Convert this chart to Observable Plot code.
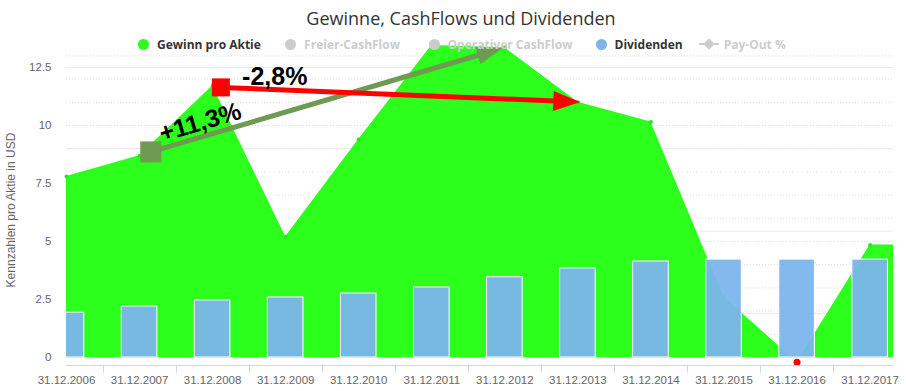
<!DOCTYPE html>
<html><head><meta charset="utf-8">
<script src="https://cdn.jsdelivr.net/npm/d3@7"></script>
<script src="https://cdn.jsdelivr.net/npm/@observablehq/plot@0.6"></script>
<style>
body{margin:0;background:#fff;}
#wrap{position:relative;width:906px;height:391px;overflow:hidden;}
#chart{position:absolute;left:0;top:0;}
.title{position:absolute;top:6px;left:461px;transform:translateX(-50%);font:18px "Open Sans";color:#333;white-space:nowrap;line-height:24px;}
.leg{position:absolute;top:36px;height:16px;display:flex;align-items:center;font:bold 12px "Open Sans";white-space:nowrap;}
.sym{width:11px;height:11px;border-radius:6px;margin-right:8px;}
.payout{position:relative;width:20px;height:11px;margin-right:5px;}
.payout .ln{position:absolute;left:0;top:4.5px;width:20px;height:2px;background:#ccc;}
.payout .dm{position:absolute;left:6px;top:1.5px;width:8px;height:8px;background:#ccc;transform:rotate(45deg);}
.ylab{position:absolute;left:11px;top:210px;transform:translate(-50%,-50%) rotate(-90deg);font:12px "Liberation Sans";color:#666;white-space:nowrap;}
</style></head><body>
<div id="wrap"><div id="chart"></div></div>
<script>
// ---- data ----
const years = ["31.12.2006","31.12.2007","31.12.2008","31.12.2009","31.12.2010","31.12.2011","31.12.2012","31.12.2013","31.12.2014","31.12.2015","31.12.2016","31.12.2017"];
const gewinn = [7.8, 8.7, 11.7, 5.2, 9.4, 13.45, 13.35, 11.0, 10.15, 2.6, -0.2, 4.85];
const dividenden = [1.93, 2.2, 2.46, 2.59, 2.76, 3.02, 3.46, 3.84, 4.14, 4.22, 4.22, 4.22];
const yTicks = [0, 2.5, 5, 7.5, 10, 12.5];
const gridDotted = [1,2,3,4,5,6,7,8,9,10,11,12,13];
const gridSolid = [12.5, 9, 5.45, 1.9];
const legendNames = ["Gewinn pro Aktie","Freier-CashFlow","Operativer CashFlow","Dividenden","Pay-Out %"];
const legendColors = ["#2bff1b","#cccccc","#cccccc","#7cb5ec","#cccccc"];
const legendActive = [true,false,false,true,false];
// annotation arrows (category index, value)
const arrowX1 = [1.16, 2.12];
const arrowY1 = [8.84, 11.62];
const arrowX2 = [5.98, 7.04];
const arrowY2 = [13.32, 10.99];
const arrowColor = ["#6e9a52", "#ff0000"];
const annText = ["+11,3%", "-2,8%"];
const annX = [1.83, 2.85];
const annY = [10.13, 12.11];
const annRotate = [-16.5, 0];

// ---- layout / style ----
const title = "Gewinne, CashFlows und Dividenden";
const yLabel = "Kennzahlen pro Aktie in USD";
const GREEN = "#2bff1b", BLUE = "#7cb5ec";
const xMax = 11.32;
const barHalf = 0.2435;
const headLen = [26, 27], headW = [18, 20], sqSize = [21, 18];
const legendX = [143.5, 290.6, 434, 601, 708.7];

const idx = years.map((d, i) => i);

function arrows(index, scales, values, dims) {
  const g = d3.create("svg:g");
  for (let k = 0; k < arrowColor.length; k++) {
    const c = arrowColor[k];
    const x1 = scales.x(arrowX1[k]), y1 = scales.y(arrowY1[k]);
    const x2 = scales.x(arrowX2[k]), y2 = scales.y(arrowY2[k]);
    const dx = x2 - x1, dy = y2 - y1, len = Math.hypot(dx, dy);
    const ux = dx / len, uy = dy / len;
    const L = headLen[k], W = headW[k];
    const bx = x2 - ux * L, by = y2 - uy * L;
    g.append("line").attr("x1", x1).attr("y1", y1).attr("x2", bx + ux * 2).attr("y2", by + uy * 2)
      .attr("stroke", c).attr("stroke-width", 5);
    g.append("path").attr("d", `M${x2},${y2}L${bx - uy * W / 2},${by + ux * W / 2}L${bx + uy * W / 2},${by - ux * W / 2}Z`)
      .attr("fill", c);
    const s = sqSize[k];
    g.append("rect").attr("x", x1 - s / 2).attr("y", y1 - s / 2).attr("width", s).attr("height", s).attr("fill", c);
  }
  return g.node();
}

function xAxisLine(index, scales, values, dims) {
  const g = d3.create("svg:g");
  const y0 = Math.round(scales.y(0)) + 8.5;
  g.append("line").attr("x1", dims.marginLeft).attr("x2", dims.width - dims.marginRight)
    .attr("y1", y0).attr("y2", y0).attr("stroke", "#ccd6eb");
  for (let i = 0; i < years.length - 1; i++) {
    const x = Math.round(scales.x(i + 0.5)) + 0.5;
    g.append("line").attr("x1", x).attr("x2", x).attr("y1", y0).attr("y2", y0 + 7).attr("stroke", "#ccd6eb");
  }
  return g.node();
}

const plot = Plot.plot({
  width: 906, height: 391,
  marginLeft: 66, marginRight: 13, marginTop: 43.8, marginBottom: 34,
  style: {fontFamily: "Liberation Sans", fontSize: "11.5px", color: "#666", background: "transparent", overflow: "visible"},
  x: {domain: [0, xMax], ticks: idx, tickFormat: i => years[i], tickSize: 0, tickPadding: 18, label: null},
  y: {domain: [0, 13.5], ticks: yTicks, tickFormat: d => String(d), tickSize: 0, tickPadding: 15, label: null},
  marks: [
    Plot.ruleY(gridDotted, {stroke: "#dddddd", strokeDasharray: "1,2"}),
    Plot.ruleY(gridSolid, {stroke: "#e8e8e8"}),
    Plot.ruleY([0], {stroke: "#e6e6e6"}),
    Plot.areaY(idx, {x: i => i, y: i => gewinn[i], fill: GREEN, clip: true}),
    Plot.rectY([gewinn.length - 1], {x1: i => i - 0.01, x2: xMax, y1: 0, y2: i => gewinn[i], fill: GREEN, clip: true}),
    Plot.dot(idx.filter(i => gewinn[i] >= 0), {x: i => i, y: i => gewinn[i], r: 2, fill: "#26e818"}),
    Plot.dot(idx.filter(i => gewinn[i] < 0), {x: i => i, y: i => gewinn[i], r: 3.5, fill: "#ff0000"}),
    Plot.rectY(idx, {x1: i => i - barHalf, x2: i => i + barHalf, y1: 0, y2: i => dividenden[i],
      fill: BLUE, fillOpacity: 0.95, stroke: "#ffffff", strokeWidth: 1, clip: true}),
    xAxisLine,
    arrows,
    Plot.text(annText, {x: (d, i) => annX[i], y: (d, i) => annY[i], text: d => d, rotate: (d, i) => annRotate[i],
      fontSize: 25, fontWeight: "bold", fontFamily: "Liberation Sans", fill: "#000", textAnchor: "middle"})
  ]
});
document.getElementById("chart").appendChild(plot);

const wrap = document.getElementById("wrap");
const t = document.createElement("div"); t.className = "title"; t.textContent = title; wrap.appendChild(t);
const yl = document.createElement("div"); yl.className = "ylab"; yl.textContent = yLabel; wrap.appendChild(yl);
legendNames.forEach((name, i) => {
  const item = document.createElement("div"); item.className = "leg";
  const isLine = i === 4;
  item.style.left = (legendX[i] - (isLine ? 10 : 5.5)) + "px";
  item.style.color = legendActive[i] ? "#333333" : "#cccccc";
  if (isLine) {
    const s = document.createElement("div"); s.className = "payout";
    s.innerHTML = '<div class="ln"></div><div class="dm"></div>';
    item.appendChild(s);
  } else {
    const s = document.createElement("div"); s.className = "sym"; s.style.background = legendColors[i];
    item.appendChild(s);
  }
  const tx = document.createElement("span"); tx.textContent = name; item.appendChild(tx);
  wrap.appendChild(item);
});
</script>
</body></html>
